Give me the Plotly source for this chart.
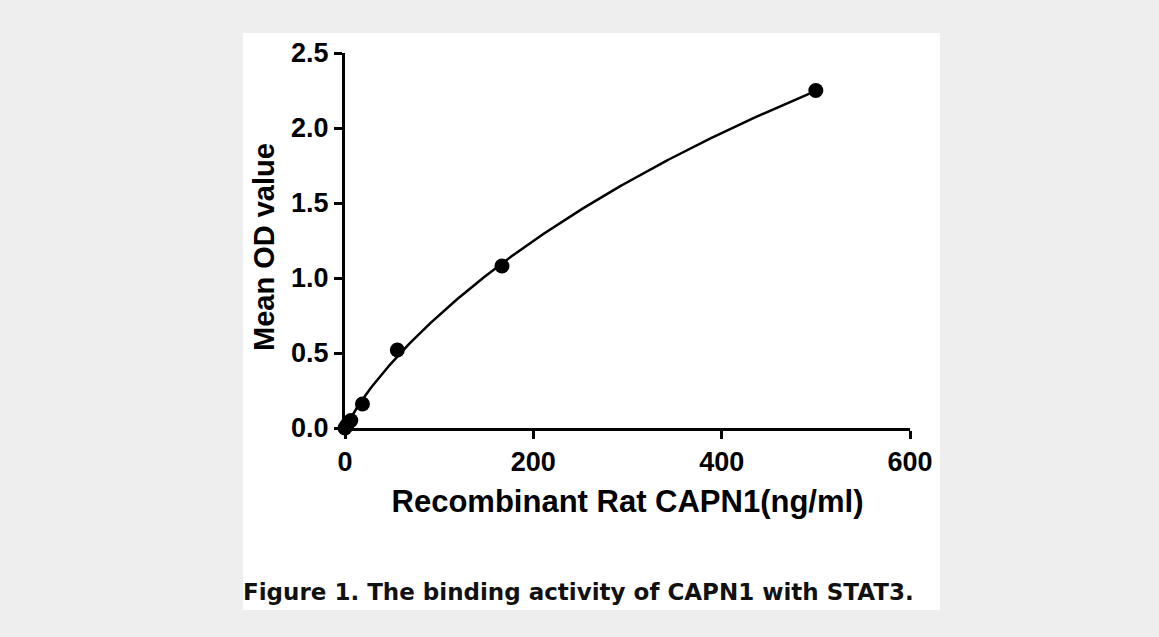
import numpy as np
import plotly.graph_objects as go

# Data
conc = [0, 2.06, 6.17, 18.52, 55.56, 166.67, 500]
od = [0.0, 0.02, 0.05, 0.16, 0.52, 1.08, 2.25]
x_ticks = [0, 200, 400, 600]
y_ticks = [0.0, 0.5, 1.0, 1.5, 2.0, 2.5]
y_tick_text = ["0.0", "0.5", "1.0", "1.5", "2.0", "2.5"]

# Fitted curve: four-parameter logistic, least squares over the data
xa = np.array(conc, float)
ya = np.array(od, float)
best = None
for b in np.linspace(0.8, 2.5, 69):
    for c in np.linspace(40, 1500, 293):
        g = xa ** b / (c ** b + xa ** b)
        A = np.vstack([np.ones_like(g), g]).T
        coef, *_ = np.linalg.lstsq(A, ya, rcond=None)
        err = ((A @ coef - ya) ** 2).sum()
        if best is None or err < best[0]:
            best = (err, b, c, coef)
_, bb, cc, coef = best
xf = np.linspace(0, max(conc), 400)
yf = coef[0] + coef[1] * xf ** bb / (cc ** bb + xf ** bb)

FONT = "Arial, 'Liberation Sans', sans-serif"

fig = go.Figure()
fig.add_trace(go.Scatter(x=xf, y=yf, mode="lines",
                         line=dict(color="black", width=2.5),
                         hoverinfo="skip", cliponaxis=False))
fig.add_trace(go.Scatter(x=conc, y=od, mode="markers",
                         marker=dict(color="black", size=15),
                         cliponaxis=False))

fig.update_layout(
    width=1159, height=637,
    paper_bgcolor="#eeeeee", plot_bgcolor="white",
    showlegend=False,
    margin=dict(l=345, r=249, t=53, b=209),
    font=dict(family=FONT, color="black"),
    shapes=[dict(type="rect", xref="paper", yref="paper",
                 x0=-102/565, x1=595/565, y0=(428-610)/375, y1=(428-33)/375,
                 fillcolor="white", line=dict(width=0), layer="below")],
    annotations=[
        dict(text="<b>Figure 1. The binding activity of CAPN1 with STAT3.</b>",
             xref="paper", yref="paper", x=(578-345)/565, y=(428-592)/375,
             showarrow=False,
             font=dict(size=23, family="'DejaVu Sans', sans-serif", color="#111"),
             xanchor="center", yanchor="middle"),
        dict(text="<b>Mean OD value</b>", textangle=-90,
             xref="paper", yref="paper", x=(264-345)/565, y=(428-247)/375,
             showarrow=False, font=dict(size=29, family=FONT, color="black"),
             xanchor="center", yanchor="middle"),
    ],
)
fig.update_xaxes(range=[0, 600], tickvals=x_ticks,
                 ticktext=[f"<b>{v}</b>" for v in x_ticks],
                 showgrid=False, zeroline=False, showline=True,
                 linecolor="black", linewidth=3,
                 ticks="outside", ticklen=8, tickwidth=3, tickcolor="black",
                 tickfont=dict(size=27, family=FONT),
                 title=dict(text="<b>Recombinant Rat CAPN1(ng/ml)</b>",
                            font=dict(size=31, family=FONT), standoff=14))
fig.update_yaxes(range=[0, 2.5], tickvals=y_ticks,
                 ticktext=[f"<b>{t}</b>" for t in y_tick_text],
                 showgrid=False, zeroline=False, showline=True,
                 linecolor="black", linewidth=3,
                 ticks="outside", ticklen=8, tickwidth=3, tickcolor="black",
                 tickfont=dict(size=27, family=FONT))

fig.write_html("out.html", config={"displayModeBar": False},
               post_script="document.body.style.margin='0';"
                           "document.body.style.background='#eeeeee';")
